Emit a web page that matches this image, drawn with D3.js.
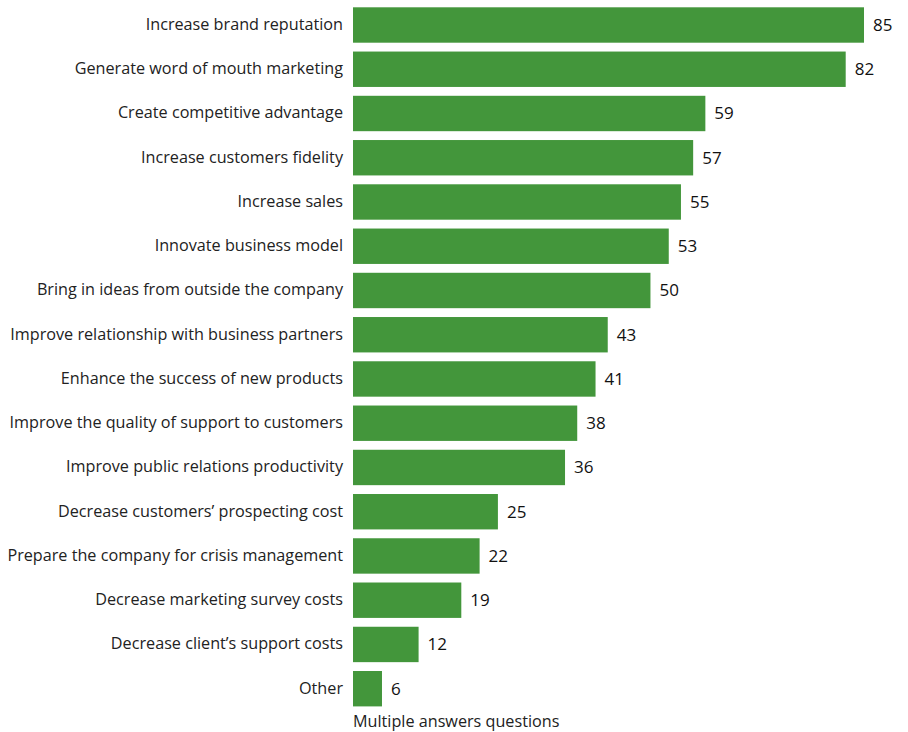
<!DOCTYPE html>
<html>
<head>
<meta charset="utf-8">
<script src="https://cdn.jsdelivr.net/npm/d3@7"></script>
<style>
  html, body { margin: 0; padding: 0; background: #ffffff; }
  svg { display: block; }
</style>
</head>
<body>
<svg id="chart" width="908" height="732"></svg>
<script>
// Survey results: reasons given (percent of respondents), multiple answers allowed
const categories = [
  "Increase brand reputation",
  "Generate word of mouth marketing",
  "Create competitive advantage",
  "Increase customers fidelity",
  "Increase sales",
  "Innovate business model",
  "Bring in ideas from outside the company",
  "Improve relationship with business partners",
  "Enhance the success of new products",
  "Improve the quality of support to customers",
  "Improve public relations productivity",
  "Decrease customers\u2019 prospecting cost",
  "Prepare the company for crisis management",
  "Decrease marketing survey costs",
  "Decrease client\u2019s support costs",
  "Other"
];
const values = [85, 82, 59, 57, 55, 53, 50, 43, 41, 38, 36, 25, 22, 19, 12, 6];
const footnote = "Multiple answers questions";

const data = categories.map((c, i) => ({ category: c, value: values[i] }));

const svg = d3.select("#chart");
const barColor = "#43963b";
const fontFamily = "'Open Sans', 'Noto Sans', sans-serif";

const x = d3.scaleLinear().domain([1.25, 85]).range([353, 864]);
const y = d3.scaleBand()
  .domain(categories)
  .range([7.3, 706.4])
  .paddingInner(0.2)
  .paddingOuter(0);

// bars
svg.append("g")
  .selectAll("rect")
  .data(data)
  .join("rect")
  .attr("x", x(x.domain()[0]))
  .attr("y", d => y(d.category))
  .attr("width", d => x(d.value) - x(x.domain()[0]))
  .attr("height", y.bandwidth())
  .attr("fill", barColor);

// category labels via a left axis without line/ticks
const yAxis = svg.append("g")
  .attr("transform", `translate(${x(x.domain()[0])},0)`)
  .call(d3.axisLeft(y).tickSize(0).tickPadding(10));
yAxis.select(".domain").remove();
yAxis.selectAll("text")
  .attr("font-family", fontFamily)
  .attr("font-size", 16.2)
  .attr("dy", "0.3em")
  .attr("fill", "#222");

// value labels
svg.append("g")
  .selectAll("text")
  .data(data)
  .join("text")
  .attr("x", d => x(d.value) + 9)
  .attr("y", d => y(d.category) + y.bandwidth() / 2)
  .attr("dy", "0.35em")
  .attr("font-family", fontFamily)
  .attr("font-size", 17)
  .attr("font-weight", 500)
  .attr("fill", "#111")
  .text(d => d.value);

// footnote
svg.append("text")
  .attr("x", x(x.domain()[0]))
  .attr("y", 727)
  .attr("font-family", fontFamily)
  .attr("font-size", 16.2)
  .attr("fill", "#222")
  .text(footnote);
</script>
</body>
</html>
